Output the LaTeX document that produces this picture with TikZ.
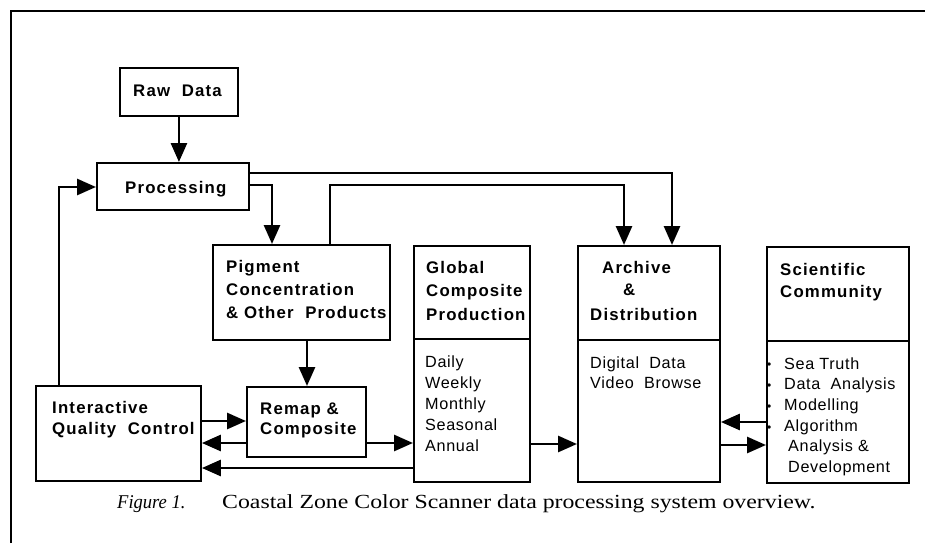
\documentclass[tikz,border=0pt]{standalone}
\usepackage{fontspec}
\setmainfont{Liberation Serif}
\newfontfamily\titlefont[LetterSpace=7]{Liberation Sans}
\newfontfamily\bodyfont[LetterSpace=4]{Liberation Sans}
\newfontfamily\capfont[FakeStretch=1.19]{Liberation Serif}
\newfontfamily\capitfont[FakeStretch=0.95]{Liberation Serif}
\usetikzlibrary{arrows.meta}
\begin{document}
\begin{tikzpicture}[x=1pt,y=-1pt,
  box/.style={draw, line width=1.9pt, inner sep=0pt, anchor=north west},
  conn/.style={line width=2.8pt},
  arr/.style={conn, -{Triangle[length=19pt,width=16pt]}},
  ttl/.style={font=\titlefont\bfseries\fontsize{16.8}{23}\selectfont, align=left, inner sep=0pt},
  bdy/.style={font=\bodyfont\fontsize{16.2}{21}\selectfont, align=left, inner sep=0pt},
  bul/.style={font=\bodyfont\fontsize{12}{12}\selectfont, inner sep=0pt, anchor=base west},
]
\useasboundingbox (0,0) rectangle (925,543);
% frame
\draw[line width=2.6pt] (11,543) -- (11,11) -- (925,11);

% boxes
\node[box, minimum width=118pt, minimum height=48pt] (raw) at (119,67) {};
\node[box, minimum width=152pt, minimum height=47pt] (proc) at (96,162) {};
\node[box, minimum width=177pt, minimum height=95pt] (pig) at (212,244) {};
\node[box, minimum width=116pt, minimum height=236pt] (glob) at (413,245) {};
\node[box, minimum width=142pt, minimum height=236pt] (arch) at (577,245) {};
\node[box, minimum width=142pt, minimum height=236pt] (sci) at (766,246) {};
\node[box, minimum width=165pt, minimum height=95pt] (qc) at (35,385) {};
\node[box, minimum width=119pt, minimum height=70pt] (remap) at (246,386) {};

% dividers
\coordinate (dg) at (0,339);
\coordinate (da) at (0,340);
\coordinate (ds) at (0,341);
\draw[line width=1.9pt] (glob.west |- dg) -- (glob.east |- dg);
\draw[line width=1.9pt] (arch.west |- da) -- (arch.east |- da);
\draw[line width=1.9pt] (sci.west |- ds) -- (sci.east |- ds);

% titles
\node[ttl, anchor=base west] (rawT) at (133,96) {Raw\ \ Data};
\node[ttl, anchor=base west] (procT) at (125,193) {Processing};
\node[ttl, anchor=north west] (pigT) at (226,260) {Pigment\\Concentration\\\& Other\ \ Products};
\node[ttl, anchor=north west, font=\titlefont\bfseries\fontsize{16.8}{23.5}\selectfont] (globT) at (426,261) {Global\\Composite\\Production};
\node[ttl, anchor=base west] (archT1) at (602,273) {Archive};
\node[ttl, anchor=base west] (archT2) at (623,295) {\&};
\node[ttl, anchor=base west] (archT3) at (590,320) {Distribution};
\node[ttl, anchor=north west, font=\titlefont\bfseries\fontsize{16.8}{22}\selectfont] (sciT) at (780,263) {Scientific\\Community};
\node[ttl, anchor=north west, font=\titlefont\bfseries\fontsize{16.8}{21.5}\selectfont] (qcT) at (52,401) {Interactive\\Quality\ \ Control};
\node[ttl, anchor=north west, font=\titlefont\bfseries\fontsize{16.8}{20}\selectfont] (remapT) at (260,403) {Remap \&\\Composite};

% body texts
\node[bdy, anchor=north west] (globB) at (425,355.4) {Daily\\Weekly\\Monthly\\Seasonal\\Annual};
\node[bdy, anchor=north west, font=\bodyfont\fontsize{16.2}{20}\selectfont] (archB) at (590,356.4) {Digital\ \ Data\\Video\ \ Browse};
\node[bdy, anchor=north west, font=\bodyfont\fontsize{16.2}{20.6}\selectfont] (sciB) at (784,357.4) {Sea Truth\\Data\ \ Analysis\\Modelling\\Algorithm\\\hspace*{4pt}Analysis \&\\\hspace*{4pt}Development};
\node[bul] (b1) at (767,368) {•};
\node[bul] (b2) at (767,389) {•};
\node[bul] (b3) at (767,410) {•};
\node[bul] (b4) at (767,431) {•};

% connectors
\draw[arr] (raw.south) -- (raw.south |- proc.north);
\coordinate (fb) at (59,187);
\draw[arr] (qc.north -| fb) -- (fb) -- (proc.west |- fb);
\coordinate (c1) at (672,173);
\draw[arr] (proc.east |- c1) -- (c1) -- (arch.north -| c1);
\coordinate (c2) at (272,185);
\draw[arr] (proc.east |- c2) -- (c2) -- (pig.north -| c2);
\coordinate (c3a) at (330,185);
\coordinate (c3b) at (624,185);
\draw[arr] (pig.north -| c3a) -- (c3a) -- (c3b) -- (arch.north -| c3b);
\coordinate (c4) at (307,0);
\draw[arr] (pig.south -| c4) -- (remap.north -| c4);
\coordinate (y1) at (0,421);
\coordinate (y2) at (0,443);
\coordinate (y3) at (0,468);
\coordinate (y4) at (0,444);
\coordinate (y5) at (0,422);
\coordinate (y6) at (0,445);
\draw[arr] (qc.east |- y1) -- (remap.west |- y1);
\draw[arr] (remap.west |- y2) -- (qc.east |- y2);
\draw[arr] (glob.west |- y3) -- (qc.east |- y3);
\draw[arr] (remap.east |- y2) -- (glob.west |- y2);
\draw[arr] (glob.east |- y4) -- (arch.west |- y4);
\draw[arr] (sci.west |- y5) -- (arch.east |- y5);
\draw[arr] (arch.east |- y6) -- (sci.west |- y6);

% caption
\node[anchor=base west, inner sep=0pt, font=\capitfont\itshape\fontsize{19.5}{19.5}\selectfont] (figlab) at (117,508) {Figure 1.};
\node[anchor=base west, inner sep=0pt, font=\capfont\fontsize{20}{20}\selectfont] (captxt) at (222,508) {Coastal Zone Color Scanner data processing system overview.};
\end{tikzpicture}
\end{document}
